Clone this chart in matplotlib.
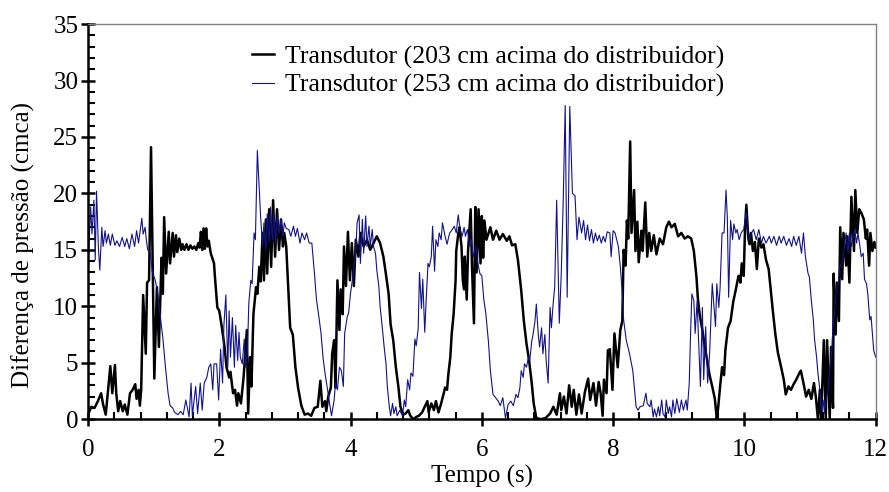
import matplotlib
matplotlib.use("Agg")
import matplotlib.pyplot as plt
from matplotlib.ticker import MultipleLocator

# -----------------------------
# Data
# -----------------------------
t_203 = [0.00, 0.05, 0.10, 0.15, 0.20, 0.23, 0.27, 0.30, 0.34, 0.37, 0.41, 0.43, 0.46, 0.49, 0.53, 0.56,
         0.60, 0.64, 0.68, 0.72, 0.74, 0.77, 0.79, 0.81, 0.84, 0.88, 0.90, 0.93, 0.96, 1.01, 1.05, 1.08,
         1.12, 1.14, 1.16, 1.19, 1.23, 1.25, 1.29, 1.31, 1.34, 1.36, 1.39, 1.42, 1.44, 1.47, 1.50, 1.53,
         1.56, 1.59, 1.62, 1.65, 1.68, 1.70, 1.72, 1.74, 1.76, 1.78, 1.80, 1.82, 1.84, 1.87, 1.92, 1.93,
         1.97, 2.00, 2.04, 2.08, 2.11, 2.15, 2.17, 2.21, 2.24, 2.27, 2.29, 2.33, 2.35, 2.37, 2.42, 2.44,
         2.47, 2.49, 2.52, 2.56, 2.58, 2.61, 2.63, 2.66, 2.68, 2.71, 2.73, 2.76, 2.79, 2.82, 2.85, 2.88,
         2.91, 2.94, 2.97, 2.99, 3.02, 3.04, 3.08, 3.12, 3.16, 3.20, 3.25, 3.30, 3.35, 3.40, 3.45, 3.50,
         3.54, 3.57, 3.61, 3.63, 3.66, 3.70, 3.72, 3.75, 3.77, 3.80, 3.83, 3.85, 3.88, 3.90, 3.93, 3.96,
         3.99, 4.02, 4.05, 4.08, 4.12, 4.15, 4.20, 4.25, 4.30, 4.35, 4.40, 4.45, 4.50, 4.53, 4.58, 4.61,
         4.65, 4.69, 4.73, 4.76, 4.80, 4.84, 4.88, 4.91, 4.96, 5.00, 5.04, 5.09, 5.13, 5.17, 5.19, 5.23,
         5.27, 5.30, 5.34, 5.38, 5.42, 5.44, 5.47, 5.49, 5.52, 5.54, 5.57, 5.60, 5.61, 5.64, 5.66, 5.69,
         5.71, 5.73, 5.74, 5.77, 5.79, 5.83, 5.85, 5.88, 5.90, 5.92, 5.95, 5.98, 6.00, 6.02, 6.04, 6.07,
         6.13, 6.17, 6.22, 6.27, 6.32, 6.38, 6.42, 6.46, 6.51, 6.55, 6.60, 6.64, 6.68, 6.72, 6.76, 6.79,
         6.83, 6.90, 6.97, 7.04, 7.09, 7.14, 7.19, 7.21, 7.25, 7.29, 7.33, 7.37, 7.40, 7.44, 7.48, 7.52,
         7.57, 7.62, 7.65, 7.70, 7.74, 7.78, 7.81, 7.84, 7.86, 7.90, 7.92, 7.95, 7.99, 8.02, 8.07, 8.11,
         8.14, 8.16, 8.19, 8.21, 8.23, 8.26, 8.28, 8.32, 8.34, 8.37, 8.39, 8.43, 8.45, 8.49, 8.52, 8.55,
         8.58, 8.62, 8.66, 8.71, 8.76, 8.81, 8.85, 8.89, 8.94, 8.99, 9.04, 9.09, 9.14, 9.19, 9.23, 9.27,
         9.29, 9.32, 9.36, 9.40, 9.43, 9.47, 9.51, 9.55, 9.58, 9.60, 9.63, 9.66, 9.69, 9.71, 9.75, 9.79,
         9.83, 9.87, 9.91, 9.94, 9.96, 9.99, 10.01, 10.03, 10.06, 10.08, 10.10, 10.13, 10.16, 10.19, 10.22, 10.26,
         10.29, 10.33, 10.37, 10.40, 10.43, 10.47, 10.51, 10.56, 10.60, 10.63, 10.67, 10.71, 10.75, 10.79, 10.83, 10.86,
         10.90, 10.94, 10.98, 11.02, 11.06, 11.09, 11.12, 11.15, 11.17, 11.21, 11.24, 11.26, 11.30, 11.32, 11.35, 11.36,
         11.39, 11.41, 11.44, 11.46, 11.49, 11.51, 11.55, 11.57, 11.60, 11.63, 11.67, 11.69, 11.72, 11.75, 11.78, 11.82,
         11.85, 11.87, 11.90, 11.92, 11.95, 11.98, 12.00]
p_203 = [0.4, 1.1, 1.0, 1.6, 2.3, 1.3, 0.4, 2.2, 4.7, 2.3, 4.8, 2.3, 0.7, 1.6, 0.7, 1.3,
         0.4, 2.3, 2.6, 3.1, 1.8, 2.6, 1.2, 2.6, 11.0, 5.8, 12.1, 12.3, 24.1, 3.6, 11.7, 6.4,
         14.3, 11.1, 17.9, 12.9, 16.6, 13.8, 16.5, 14.4, 16.3, 14.8, 16.0, 15.0, 15.5, 15.0, 15.5, 15.0,
         15.4, 15.1, 15.3, 15.0, 15.6, 15.2, 16.6, 15.0, 16.9, 15.1, 16.9, 15.3, 15.8, 14.7, 13.8, 12.9,
         9.9, 9.6, 8.1, 6.4, 4.6, 3.7, 4.2, 2.3, 2.6, 1.2, 2.3, 1.4, 2.6, 3.7, 7.9, 0.5,
         5.5, 2.9, 9.3, 11.7, 11.1, 13.5, 12.2, 16.5, 12.3, 17.7, 12.9, 18.6, 13.5, 19.4, 14.4, 18.6,
         15.0, 17.7, 15.3, 16.5, 15.3, 12.9, 8.1, 7.5, 4.6, 2.8, 1.2, 0.4, 0.5, 0.3, 1.0, 1.1,
         3.4, 1.1, 1.6, 0.7, 2.0, 2.8, 5.8, 7.0, 2.8, 12.3, 7.9, 11.5, 9.3, 15.3, 11.8, 16.6,
         12.3, 15.6, 11.8, 15.9, 14.4, 16.5, 15.3, 15.9, 15.0, 15.6, 16.2, 15.6, 14.4, 13.2, 11.1, 8.4,
         7.0, 4.6, 2.8, 1.1, 0.4, 0.5, 0.8, 0.3, 0.0, 0.2, 0.3, 0.6, 1.1, 1.6, 0.6, 1.4,
         0.8, 1.6, 0.6, 1.4, 2.3, 2.8, 2.6, 4.0, 5.5, 7.5, 9.3, 12.3, 14.9, 16.4, 17.0, 15.3,
         12.3, 11.5, 14.4, 10.6, 14.9, 18.6, 13.5, 8.5, 18.8, 13.0, 18.6, 13.8, 18.0, 14.3, 17.6, 15.9,
         17.0, 15.9, 16.7, 15.9, 16.4, 15.8, 16.2, 15.4, 15.5, 14.1, 11.4, 8.7, 6.7, 5.2, 3.2, 1.4,
         0.1, 0.0, 0.1, 0.5, 1.1, 0.4, 2.3, 0.8, 2.0, 0.5, 3.0, 1.1, 2.6, 0.4, 2.2, 0.5,
         2.4, 3.6, 1.7, 3.2, 1.2, 3.3, 2.3, 0.3, 3.5, 2.3, 6.1, 6.2, 2.6, 7.6, 4.6, 7.9,
         8.7, 15.0, 13.6, 17.6, 16.0, 24.6, 16.5, 20.3, 14.9, 17.5, 13.9, 16.7, 14.9, 19.2, 14.4, 16.5,
         14.9, 16.3, 14.6, 16.0, 15.5, 17.0, 17.5, 17.0, 17.3, 16.2, 16.5, 16.0, 16.2, 16.0, 14.9, 12.6,
         10.8, 9.2, 7.9, 6.3, 5.3, 3.9, 2.9, 1.8, 0.0, 1.0, 2.9, 4.6, 3.9, 6.1, 8.1, 8.7,
         10.4, 11.5, 12.7, 12.1, 13.8, 12.7, 17.0, 19.0, 16.0, 15.5, 16.5, 14.9, 15.7, 13.3, 16.0, 15.2,
         15.5, 14.1, 13.3, 11.5, 9.8, 7.6, 5.9, 4.6, 3.5, 2.2, 2.9, 2.6, 3.1, 3.5, 4.0, 4.3,
         3.2, 2.0, 2.6, 1.8, 3.2, 1.9, 0.0, 2.6, 0.0, 7.0, 0.0, 7.0, 0.0, 6.4, 1.0, 12.9,
         7.5, 12.1, 8.7, 17.0, 12.4, 16.5, 13.6, 16.2, 12.1, 19.7, 14.9, 20.3, 16.5, 18.6, 18.3, 17.7,
         16.0, 16.8, 13.6, 16.5, 14.9, 15.7, 15.2]

t_253 = [0.00, 0.04, 0.06, 0.09, 0.11, 0.13, 0.16, 0.18, 0.21, 0.23, 0.26, 0.28, 0.31, 0.34, 0.37, 0.41,
         0.44, 0.48, 0.52, 0.56, 0.59, 0.63, 0.67, 0.71, 0.74, 0.77, 0.82, 0.84, 0.87, 0.89, 0.91, 0.95,
         0.98, 1.02, 1.06, 1.10, 1.14, 1.18, 1.22, 1.25, 1.29, 1.32, 1.37, 1.41, 1.45, 1.49, 1.54, 1.57,
         1.59, 1.64, 1.67, 1.71, 1.74, 1.77, 1.81, 1.84, 1.87, 1.90, 1.92, 1.96, 1.99, 2.02, 2.05, 2.07,
         2.10, 2.13, 2.15, 2.17, 2.20, 2.23, 2.25, 2.28, 2.30, 2.32, 2.35, 2.38, 2.40, 2.43, 2.45, 2.48,
         2.50, 2.53, 2.55, 2.58, 2.61, 2.63, 2.66, 2.68, 2.71, 2.73, 2.76, 2.78, 2.81, 2.83, 2.86, 2.88,
         2.91, 2.94, 2.97, 2.99, 3.02, 3.06, 3.09, 3.13, 3.16, 3.19, 3.23, 3.26, 3.30, 3.33, 3.37, 3.41,
         3.45, 3.48, 3.51, 3.55, 3.58, 3.61, 3.65, 3.68, 3.71, 3.75, 3.77, 3.80, 3.83, 3.86, 3.89, 3.91,
         3.95, 3.97, 4.00, 4.03, 4.05, 4.08, 4.10, 4.13, 4.15, 4.18, 4.20, 4.23, 4.25, 4.28, 4.30, 4.33,
         4.35, 4.38, 4.40, 4.43, 4.45, 4.48, 4.51, 4.54, 4.56, 4.59, 4.61, 4.64, 4.66, 4.69, 4.71, 4.75,
         4.79, 4.82, 4.84, 4.87, 4.90, 4.92, 4.95, 4.98, 5.00, 5.03, 5.05, 5.08, 5.10, 5.13, 5.15, 5.18,
         5.20, 5.23, 5.25, 5.28, 5.30, 5.33, 5.35, 5.38, 5.40, 5.44, 5.47, 5.51, 5.55, 5.58, 5.61, 5.64,
         5.67, 5.70, 5.73, 5.75, 5.78, 5.82, 5.84, 5.87, 5.91, 5.94, 5.97, 6.00, 6.03, 6.06, 6.10, 6.13,
         6.17, 6.21, 6.25, 6.28, 6.32, 6.36, 6.40, 6.44, 6.48, 6.52, 6.55, 6.58, 6.60, 6.63, 6.65, 6.68,
         6.71, 6.73, 6.76, 6.78, 6.81, 6.83, 6.86, 6.88, 6.91, 6.93, 6.96, 6.98, 7.01, 7.04, 7.06, 7.09,
         7.11, 7.14, 7.18, 7.21, 7.24, 7.27, 7.30, 7.34, 7.38, 7.42, 7.45, 7.48, 7.52, 7.55, 7.58, 7.61,
         7.64, 7.67, 7.70, 7.73, 7.76, 7.79, 7.82, 7.85, 7.88, 7.91, 7.95, 7.97, 8.00, 8.03, 8.08, 8.11,
         8.14, 8.16, 8.20, 8.25, 8.30, 8.35, 8.38, 8.41, 8.46, 8.50, 8.52, 8.56, 8.58, 8.61, 8.63, 8.66,
         8.69, 8.71, 8.74, 8.76, 8.79, 8.81, 8.84, 8.86, 8.89, 8.91, 8.94, 8.97, 9.01, 9.04, 9.07, 9.11,
         9.13, 9.16, 9.18, 9.20, 9.23, 9.25, 9.28, 9.30, 9.33, 9.36, 9.38, 9.41, 9.44, 9.47, 9.51, 9.53,
         9.56, 9.58, 9.61, 9.63, 9.66, 9.69, 9.72, 9.74, 9.76, 9.79, 9.82, 9.84, 9.87, 9.89, 9.92, 9.95,
         9.99, 10.03, 10.07, 10.11, 10.14, 10.18, 10.22, 10.26, 10.29, 10.33, 10.38, 10.41, 10.45, 10.49, 10.53, 10.56,
         10.60, 10.64, 10.68, 10.72, 10.75, 10.79, 10.83, 10.87, 10.90, 10.93, 10.97, 10.99, 11.02, 11.05, 11.07, 11.10,
         11.12, 11.15, 11.17, 11.20, 11.22, 11.25, 11.27, 11.30, 11.33, 11.35, 11.38, 11.40, 11.43, 11.45, 11.48, 11.50,
         11.53, 11.55, 11.58, 11.60, 11.63, 11.65, 11.68, 11.71, 11.73, 11.76, 11.78, 11.81, 11.83, 11.86, 11.88, 11.91,
         11.93, 11.95, 11.97, 12.00]
p_253 = [13.5, 18.8, 16.4, 19.4, 14.1, 20.2, 15.0, 13.2, 17.0, 15.3, 16.7, 15.6, 16.4, 15.4, 16.4, 15.4,
         15.8, 15.3, 16.1, 15.3, 16.0, 15.1, 16.4, 15.3, 16.7, 15.6, 17.8, 16.4, 17.0, 15.8, 15.0, 14.7,
         13.0, 12.4, 11.3, 9.2, 7.2, 4.6, 2.3, 1.2, 1.0, 0.6, 0.4, 0.7, 0.4, 1.7, 0.2, 3.2,
         0.3, 2.9, 0.5, 3.2, 0.8, 3.2, 3.7, 4.6, 4.9, 2.6, 4.9, 4.9, 1.7, 6.2, 3.2, 8.3,
         11.0, 4.6, 9.6, 5.5, 9.0, 4.6, 8.3, 5.2, 7.7, 5.5, 4.9, 7.1, 4.6, 6.2, 10.3, 12.3,
         12.0, 16.5, 15.9, 23.8, 20.3, 17.9, 15.3, 17.4, 15.0, 18.2, 15.6, 18.8, 15.9, 18.2, 15.6, 17.9,
         16.5, 17.7, 16.2, 17.4, 16.9, 16.8, 16.2, 17.1, 16.2, 16.9, 15.6, 16.5, 15.9, 16.5, 15.6, 15.6,
         12.9, 10.6, 9.4, 7.6, 5.5, 4.1, 2.6, 1.4, 0.3, 1.7, 3.2, 2.6, 4.6, 4.3, 2.9, 7.6,
         9.1, 9.4, 11.2, 12.4, 13.5, 15.0, 17.4, 18.1, 13.8, 17.7, 14.7, 18.0, 15.3, 17.1, 15.3, 16.8,
         15.3, 14.7, 13.2, 11.8, 10.0, 8.3, 6.5, 4.9, 2.9, 1.1, 0.3, 1.4, 0.5, 1.1, 0.3, 0.8,
         0.3, 1.7, 1.1, 3.5, 2.6, 4.1, 3.8, 7.1, 6.5, 8.0, 13.0, 9.8, 12.4, 7.7, 10.3, 13.8,
         13.5, 14.4, 17.1, 13.1, 15.9, 15.3, 16.5, 15.9, 17.4, 16.2, 15.5, 16.5, 16.8, 17.1, 16.5, 18.1,
         16.8, 16.2, 17.0, 16.2, 16.8, 15.3, 15.9, 14.4, 15.3, 13.8, 12.9, 12.7, 10.6, 9.4, 6.9, 4.3,
         2.2, 1.9, 1.6, 1.2, 1.9, 0.1, 1.3, 1.6, 1.2, 2.2, 1.9, 2.8, 4.3, 3.7, 4.9, 4.6,
         5.5, 5.2, 6.9, 7.5, 8.7, 10.2, 7.5, 6.4, 8.1, 5.8, 7.5, 5.2, 3.2, 9.9, 8.1, 10.5,
         11.7, 19.4, 8.5, 12.9, 19.4, 27.8, 10.8, 27.7, 20.0, 19.8, 15.9, 17.9, 16.5, 17.6, 15.9, 17.2,
         15.8, 16.8, 15.6, 16.5, 15.8, 16.3, 15.6, 16.2, 15.7, 16.6, 16.5, 14.4, 16.7, 16.5, 15.3, 13.5,
         11.1, 8.8, 7.0, 5.8, 4.3, 1.1, 0.8, 1.1, 1.2, 2.3, 1.4, 1.1, 1.7, 0.2, 0.9, 0.2,
         1.1, 0.3, 1.7, 0.5, 0.2, 1.7, 0.5, 1.1, 0.2, 1.7, 0.5, 1.8, 0.6, 1.7, 0.8, 1.7,
         0.8, 3.2, 7.6, 11.1, 10.5, 7.6, 10.5, 7.3, 2.9, 9.9, 3.5, 8.2, 3.2, 5.8, 12.0, 10.5,
         8.2, 12.0, 9.9, 11.7, 16.5, 16.5, 20.3, 17.9, 10.8, 17.6, 15.9, 17.3, 16.5, 16.8, 15.9, 16.5,
         16.8, 18.3, 15.9, 16.5, 16.8, 15.9, 16.8, 15.6, 16.2, 15.6, 16.2, 15.6, 16.2, 15.4, 16.2, 15.6,
         16.2, 15.4, 16.0, 15.3, 16.2, 15.4, 16.2, 14.7, 16.5, 14.4, 12.9, 12.6, 10.5, 8.8, 7.0, 5.5,
         4.1, 2.6, 0.8, 1.7, 0.5, 2.0, 2.3, 4.3, 6.1, 8.2, 9.9, 11.4, 12.0, 13.5, 13.8, 14.1,
         15.6, 16.5, 14.7, 16.5, 15.3, 15.9, 16.8, 15.6, 16.5, 15.3, 14.4, 14.7, 12.4, 12.0, 11.1, 8.8,
         9.1, 7.6, 6.1, 5.5]

labels = ["Transdutor (203 cm acima do distribuidor)",
          "Transdutor (253 cm acima do distribuidor)"]

# -----------------------------
# Plot
# -----------------------------
plt.rcParams['font.family'] = ['Liberation Serif', 'DejaVu Serif']
plt.rcParams['font.size'] = 18

fig = plt.figure(figsize=(8.89, 4.92), dpi=100)
ax = fig.add_axes([0.099, 0.148, 0.886, 0.803])

ax.plot(t_203, p_203, color='black', linewidth=1.8, label=labels[0])
ax.plot(t_253, p_253, color='#12128c', linewidth=0.8, label=labels[1])

ax.set_xlim(0, 12)
ax.set_ylim(0, 35)
ax.xaxis.set_major_locator(MultipleLocator(2))
ax.xaxis.set_minor_locator(MultipleLocator(0.4))
ax.yaxis.set_major_locator(MultipleLocator(5))
ax.yaxis.set_minor_locator(MultipleLocator(1))

# axis look: heavy left/bottom, thin grey top/right
for side in ['left', 'bottom']:
    ax.spines[side].set_linewidth(1.8)
    ax.spines[side].set_color('black')
for side in ['top', 'right']:
    ax.spines[side].set_linewidth(1.0)
    ax.spines[side].set_color('#808080')

ax.tick_params(which='major', direction='inout', length=10, width=1.8, labelsize=18, pad=2)
ax.tick_params(which='minor', direction='in', length=5, width=1.5)
ax.tick_params(axis='x', which='major', pad=9)

ax.set_xlabel("Tempo (s)", fontsize=18, labelpad=3)
ax.set_ylabel("Diferença de pressão (cmca)", fontsize=18)
ax.yaxis.set_label_coords(-0.067, 0.44)

ax.legend(loc='upper left', bbox_to_anchor=(0.195, 0.972), frameon=False,
          handlelength=0.85, handletextpad=0.45, labelspacing=0.2,
          borderaxespad=0, fontsize=18.5)

plt.savefig("out.png", dpi=100)
plt.close()
